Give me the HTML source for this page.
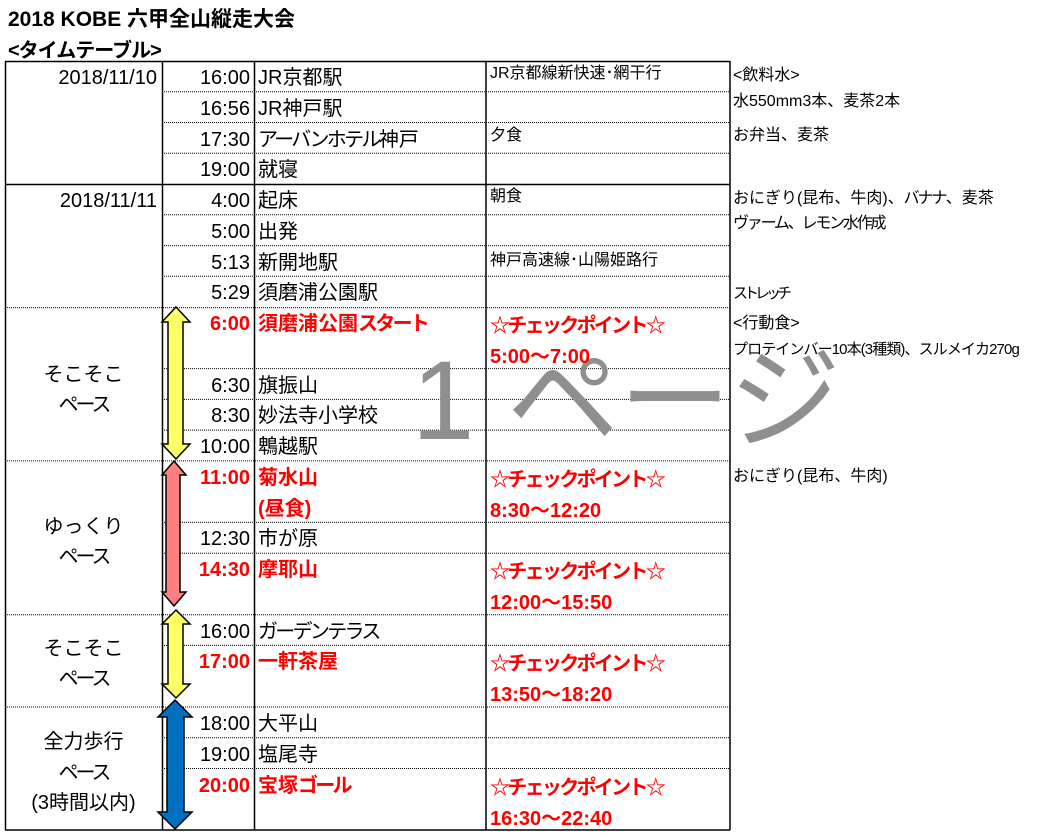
<!DOCTYPE html>
<html><head><meta charset="utf-8"><style>
body{margin:0;width:1045px;height:836px;background:#fff;position:relative;overflow:hidden;font-family:"Liberation Sans","Noto Sans CJK JP",sans-serif;color:#000}
.a{position:absolute;white-space:nowrap}
.r{height:31px;line-height:31px;font-size:20px}
.t{left:162px;width:88px;text-align:right}
.p{left:258px}
.c{left:490px;font-size:16px}
.n{left:733px;font-size:16px}
.red{color:#f00;font-weight:bold}
.cp{color:#f00;font-weight:bold}
.lab{left:5px;width:157px;text-align:center;font-size:20px}
.k{letter-spacing:-2.7px}
.k3{letter-spacing:-3px}
</style></head><body>
<div class="a" style="left:8px;top:3px;font-size:21px;font-weight:bold">2018 KOBE 六甲全山縦走大会</div>
<div class="a" style="left:8px;top:34px;font-size:20px;font-weight:bold;letter-spacing:-1px">&lt;タイムテーブル&gt;</div>

<svg class="a" style="left:0;top:0" width="1045" height="836">
<g stroke="#000" stroke-width="1" stroke-dasharray="1,1" fill="none">
<line x1="162" x2="730" y1="91.8" y2="91.8"/><line x1="162" x2="730" y1="122.5" y2="122.5"/><line x1="162" x2="730" y1="153.3" y2="153.3"/>
<line x1="162" x2="730" y1="214.8" y2="214.8"/><line x1="162" x2="730" y1="245.6" y2="245.6"/><line x1="162" x2="730" y1="276.3" y2="276.3"/>
<line x1="5" x2="730" y1="307.6" y2="307.6"/><line x1="162" x2="730" y1="368.6" y2="368.6"/><line x1="162" x2="730" y1="399.4" y2="399.4"/>
<line x1="162" x2="730" y1="430.1" y2="430.1"/><line x1="5" x2="730" y1="460.9" y2="460.9"/><line x1="162" x2="730" y1="522.4" y2="522.4"/>
<line x1="162" x2="730" y1="553.2" y2="553.2"/><line x1="5" x2="730" y1="614.7" y2="614.7"/><line x1="162" x2="730" y1="645.4" y2="645.4"/>
<line x1="5" x2="730" y1="707" y2="707"/><line x1="162" x2="730" y1="737.7" y2="737.7"/><line x1="162" x2="730" y1="768.5" y2="768.5"/>
</g>
<g stroke="#000" stroke-width="1.5">
<line x1="5" x2="730" y1="61.5" y2="61.5"/><line x1="5" x2="730" y1="184.5" y2="184.5"/><line x1="5" x2="730" y1="830" y2="830"/>
<line x1="5.5" x2="5.5" y1="61" y2="830"/><line x1="162.5" x2="162.5" y1="61" y2="830"/><line x1="254.5" x2="254.5" y1="61" y2="830"/>
<line x1="486" x2="486" y1="61" y2="830"/><line x1="730" x2="730" y1="61" y2="830"/>
</g>
<g stroke="#000" stroke-width="1.5" stroke-linejoin="miter">
<polygon fill="#ffff66" points="176,307 190,322 183,322 183,444 190,444 176,459 162,444 168,444 168,322 162,322"/>
<polygon fill="#ff8080" points="174,461 186,475 180,475 180,592 186,592 174,606 162,592 166,592 166,475 162,475"/>
<polygon fill="#ffff66" points="176,610 190,624 183,624 183,684 190,684 176,698 162,684 168,684 168,624 162,624"/>
<polygon fill="#0070c0" points="175,700 192,717 184,717 184,812 192,812 175,829 158,812 167,812 167,717 158,717"/>
</g>
</svg>

<div class="a" style="left:412px;top:345px;font-size:112px;line-height:112px;color:#8f8f8f">1</div>
<div class="a" style="left:507px;top:345px;font-size:112px;line-height:112px;color:#8f8f8f">ページ</div>

<div class="a r" style="left:5px;width:152px;text-align:right;top:63px">2018/11/10</div>
<div class="a r" style="left:5px;width:152px;text-align:right;top:186px">2018/11/11</div>
<div class="a lab" style="top:358px">そこそこ</div><div class="a lab k3" style="top:388px">ペース</div>
<div class="a lab" style="top:510px">ゆっくり</div><div class="a lab k3" style="top:540px">ペース</div>
<div class="a lab" style="top:632px">そこそこ</div><div class="a lab k3" style="top:662px">ペース</div>
<div class="a lab" style="top:725px">全力歩行</div><div class="a lab k3" style="top:756px">ペース</div><div class="a lab" style="top:786px">(3時間以内)</div>

<div style="position:absolute;left:0;top:2px;width:1045px;height:836px">
<div class="a r t" style="top:61px">16:00</div><div class="a r p" style="top:61px">JR京都駅</div>
<div class="a r t" style="top:91.8px">16:56</div><div class="a r p" style="top:91.8px">JR神戸駅</div>
<div class="a r t" style="top:122.5px">17:30</div><div class="a r p" style="top:122.5px"><span class="k">アーバンホテル</span>神戸</div>
<div class="a r t" style="top:153.3px">19:00</div><div class="a r p" style="top:153.3px">就寝</div>
<div class="a r t" style="top:184px">4:00</div><div class="a r p" style="top:184px">起床</div>
<div class="a r t" style="top:214.8px">5:00</div><div class="a r p" style="top:214.8px">出発</div>
<div class="a r t" style="top:245.6px">5:13</div><div class="a r p" style="top:245.6px">新開地駅</div>
<div class="a r t" style="top:276.3px">5:29</div><div class="a r p" style="top:276.3px">須磨浦公園駅</div>
<div class="a r t red" style="top:307.1px">6:00</div><div class="a r p red" style="top:307.1px">須磨浦公園<span class="k">スタート</span></div>
<div class="a r t" style="top:368.6px">6:30</div><div class="a r p" style="top:368.6px">旗振山</div>
<div class="a r t" style="top:399.4px">8:30</div><div class="a r p" style="top:399.4px">妙法寺小学校</div>
<div class="a r t" style="top:430.1px">10:00</div><div class="a r p" style="top:430.1px">鵯越駅</div>
<div class="a r t red" style="top:460.9px">11:00</div><div class="a r p red" style="top:460.9px">菊水山</div>
<div class="a r p red" style="top:491.6px">(昼食)</div>
<div class="a r t" style="top:522.4px">12:30</div><div class="a r p" style="top:522.4px">市が原</div>
<div class="a r t red" style="top:553.2px">14:30</div><div class="a r p red" style="top:553.2px">摩耶山</div>
<div class="a r t" style="top:614.7px">16:00</div><div class="a r p k" style="top:614.7px">ガーデンテラス</div>
<div class="a r t red" style="top:645.4px">17:00</div><div class="a r p red" style="top:645.4px">一軒茶屋</div>
<div class="a r t" style="top:707px">18:00</div><div class="a r p" style="top:707px">大平山</div>
<div class="a r t" style="top:737.7px">19:00</div><div class="a r p" style="top:737.7px">塩尾寺</div>
<div class="a r t red" style="top:768.5px">20:00</div><div class="a r p red" style="top:768.5px">宝塚<span class="k">ゴール</span></div>
</div>

<div class="a r c" style="top:58px">JR京都線新快速･網干行</div>
<div class="a r c" style="top:120px">夕食</div>
<div class="a r c" style="top:181px">朝食</div>
<div class="a r c" style="top:245px">神戸高速線･山陽姫路行</div>
<div class="a r cp c k" style="top:311px;font-size:20px">☆チェックポイント☆</div><div class="a r cp c" style="top:342px;font-size:20px">5:00～7:00</div>
<div class="a r cp c k" style="top:465px;font-size:20px">☆チェックポイント☆</div><div class="a r cp c" style="top:496px;font-size:20px">8:30～12:20</div>
<div class="a r cp c k" style="top:557px;font-size:20px">☆チェックポイント☆</div><div class="a r cp c" style="top:588px;font-size:20px">12:00～15:50</div>
<div class="a r cp c k" style="top:649px;font-size:20px">☆チェックポイント☆</div><div class="a r cp c" style="top:680px;font-size:20px">13:50～18:20</div>
<div class="a r cp c k" style="top:773px;font-size:20px">☆チェックポイント☆</div><div class="a r cp c" style="top:804px;font-size:20px">16:30～22:40</div>

<div class="a r n" style="top:60px">&lt;飲料水&gt;</div>
<div class="a r n" style="top:86px">水550mm3本、麦茶2本</div>
<div class="a r n" style="top:120px">お弁当、麦茶</div>
<div class="a r n" style="top:183px">おにぎり(昆布、牛肉)、<span style="letter-spacing:-2px">バナナ</span>、麦茶</div>
<div class="a r n" style="top:208px;letter-spacing:-2.2px">ヴァーム、レモン水作成</div>
<div class="a r n" style="top:278px;font-size:15px;letter-spacing:-4px">ストレッチ</div>
<div class="a r n" style="top:308px">&lt;行動食&gt;</div>
<div class="a r n" style="top:334px;font-size:15px;letter-spacing:-0.9px">プロテインバー10本(3種類)、スルメイカ270g</div>
<div class="a r n" style="top:461px">おにぎり(昆布、牛肉)</div>
</body></html>
